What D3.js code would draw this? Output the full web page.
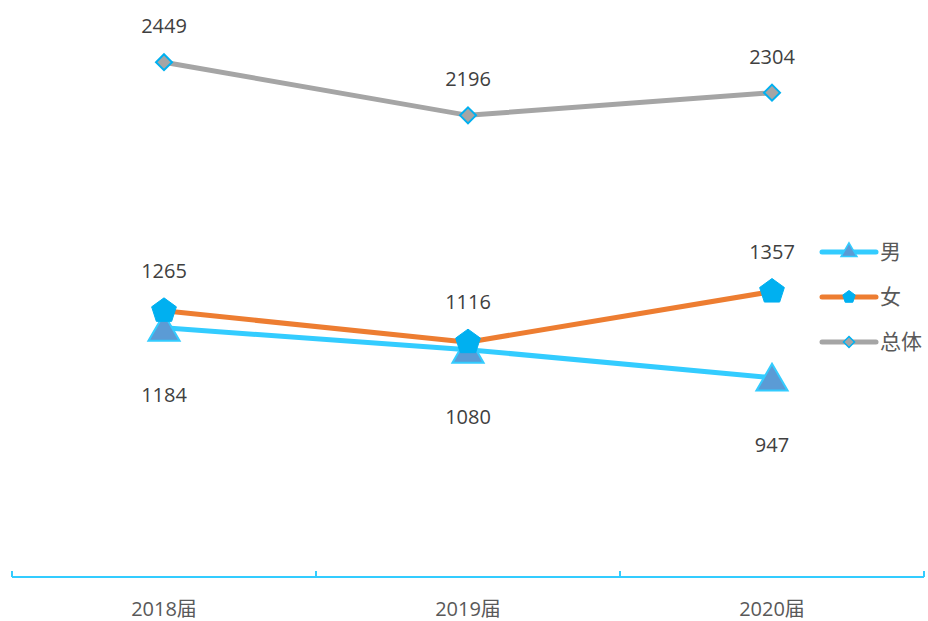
<!DOCTYPE html>
<html>
<head>
<meta charset="utf-8">
<script src="https://cdn.jsdelivr.net/npm/d3@7"></script>
<style>
  body { margin: 0; background: #fff; }
  text { font-family: "Open Sans", "Noto Sans CJK SC", sans-serif; }
</style>
</head>
<body>
<div class="chart"></div>
<script>
const width = 928;
const height = 621;

// data
const years = ['2018届', '2019届', '2020届'];
const male = [1184, 1080, 947];
const female = [1265, 1116, 1357];
const total = [2449, 2196, 2304];
const seriesNames = ['男', '女', '总体'];

const series = [
  {name: seriesNames[0], values: male, color: '#33CCFF', marker: 'triangle', labelDy: 74},
  {name: seriesNames[1], values: female, color: '#ED7D31', marker: 'pentagon', labelDy: -33},
  {name: seriesNames[2], values: total, color: '#A5A5A5', marker: 'diamond', labelDy: -29}
];

const svg = d3.select('.chart').append('svg')
  .attr('width', width)
  .attr('height', height);

const xScale = d3.scaleBand()
  .domain(years)
  .range([12, 924]);

const yScale = d3.scaleLinear()
  .domain([0, 2500])
  .range([576.5, 51.5]);

// x axis: line with small ticks pointing up
const axisColor = '#33CCFF';
const ax = svg.append('g');
ax.append('line')
  .attr('x1', 12).attr('x2', 924)
  .attr('y1', 577).attr('y2', 577)
  .attr('stroke', axisColor).attr('stroke-width', 2);
const edges = years.map(d => xScale(d)).concat([xScale.range()[1]]);
ax.selectAll('.tick')
  .data(edges)
  .enter().append('line')
  .attr('x1', d => d).attr('x2', d => d)
  .attr('y1', 571).attr('y2', 577)
  .attr('stroke', axisColor).attr('stroke-width', 2);
ax.selectAll('.xlabel')
  .data(years)
  .enter().append('text')
  .attr('x', d => xScale(d) + xScale.bandwidth() / 2)
  .attr('y', 616)
  .attr('text-anchor', 'middle')
  .attr('font-size', 20)
  .attr('fill', '#595959')
  .text(d => d);

const cx = i => xScale(years[i]) + xScale.bandwidth() / 2;

const line = d3.line()
  .x((d, i) => cx(i))
  .y(d => yScale(d));

function markerPath(type, r) {
  if (type === 'triangle') {
    return d3.symbol().type(d3.symbolTriangle).size(r)();
  }
  if (type === 'pentagon') {
    const pts = d3.range(5).map(k => {
      const a = -Math.PI / 2 + k * 2 * Math.PI / 5;
      return [r * Math.cos(a), r * Math.sin(a)];
    });
    return 'M' + pts.join('L') + 'Z';
  }
  return `M0,${-r}L${r},0L0,${r}L${-r},0Z`;
}

const markerStyle = {
  triangle: {fill: '#5B9BD5', stroke: '#33CCFF', sw: 2},
  pentagon: {fill: '#00B0F0', stroke: '#00B0F0', sw: 1},
  diamond: {fill: '#A5A5A5', stroke: '#00B0F0', sw: 2}
};

// draw order: total, female, male (male on top)
[series[2], series[1], series[0]].forEach(s => {
  svg.append('path')
    .datum(s.values)
    .attr('d', line)
    .attr('fill', 'none')
    .attr('stroke', s.color)
    .attr('stroke-width', 5)
    .attr('stroke-linecap', 'round');
});

[series[2], series[0], series[1]].forEach(s => {
  const st = markerStyle[s.marker];
  const size = s.marker === 'triangle' ? 420 : s.marker === 'pentagon' ? 13 : 8;
  const dy = s.marker === 'triangle' ? 4 : 0;
  svg.selectAll(null)
    .data(s.values)
    .enter().append('path')
    .attr('d', markerPath(s.marker, size))
    .attr('transform', (d, i) => `translate(${cx(i)},${yScale(d) + dy})`)
    .attr('fill', st.fill)
    .attr('stroke', st.stroke)
    .attr('stroke-width', st.sw);
});

series.forEach(s => {
  svg.selectAll(null)
    .data(s.values)
    .enter().append('text')
    .attr('x', (d, i) => cx(i))
    .attr('y', d => yScale(d) + s.labelDy)
    .attr('text-anchor', 'middle')
    .attr('font-size', 20)
    .attr('fill', '#404040')
    .text(d => d);
});

// legend
const legend = svg.append('g');
series.forEach((s, i) => {
  const y = 252 + i * 45;
  const st = markerStyle[s.marker];
  legend.append('line')
    .attr('x1', 822).attr('x2', 876)
    .attr('y1', y).attr('y2', y)
    .attr('stroke', s.color).attr('stroke-width', 5)
    .attr('stroke-linecap', 'round');
  const size = s.marker === 'triangle' ? 110 : s.marker === 'pentagon' ? 6.5 : 5.5;
  legend.append('path')
    .attr('d', markerPath(s.marker, size))
    .attr('transform', `translate(849,${y})`)
    .attr('fill', st.fill)
    .attr('stroke', st.stroke)
    .attr('stroke-width', s.marker === 'pentagon' ? 1 : 1.5);
  legend.append('text')
    .attr('x', 880)
    .attr('y', y + 7)
    .attr('font-size', 21)
    .attr('fill', '#595959')
    .text(s.name);
});
</script>
</body>
</html>
